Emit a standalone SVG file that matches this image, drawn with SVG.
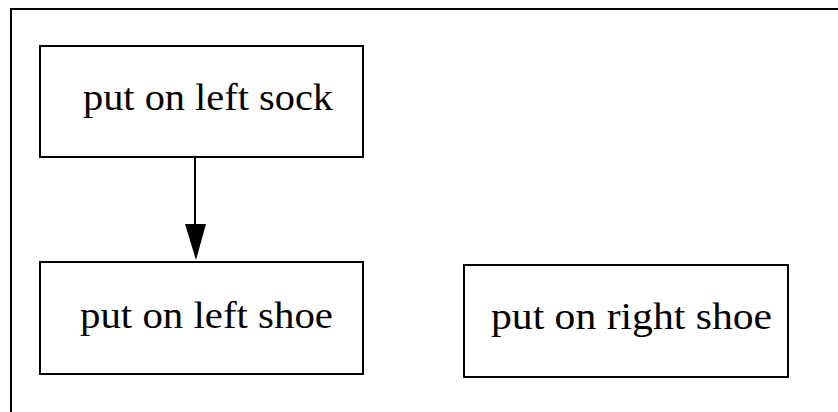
<svg xmlns="http://www.w3.org/2000/svg" width="838" height="412" viewBox="0 0 838 412">
<style>
.box{fill:#fff;stroke:#000;stroke-width:2}
.lbl{font-family:"Liberation Serif","Times New Roman",serif;font-size:38px;fill:#000}
.edge{stroke:#000;stroke-width:2;fill:none}
.head{fill:#000;stroke:none}
</style>
<rect x="0" y="0" width="838" height="412" fill="#fff"/>
<rect x="11" y="9" width="840" height="420" fill="none" stroke="#000" stroke-width="2"/>
<g id="connectors">
<line class="edge" x1="195" y1="157" x2="195" y2="226"/>
<path class="head" d="M185,224 L206,224 L196,260 Z"/>
</g>
<g id="left_sock">
<rect class="box" x="40" y="46" width="323" height="111"/>
<text class="lbl" x="83" y="110" textLength="250" lengthAdjust="spacingAndGlyphs">put on left sock</text>
</g>
<g id="left_shoe">
<rect class="box" x="40" y="262" width="323" height="112"/>
<text class="lbl" x="80" y="328" textLength="253" lengthAdjust="spacingAndGlyphs">put on left shoe</text>
</g>
<g id="right_shoe">
<rect class="box" x="464" y="265" width="324" height="112"/>
<text class="lbl" x="491" y="329" textLength="281" lengthAdjust="spacingAndGlyphs">put on right shoe</text>
</g>
</svg>
